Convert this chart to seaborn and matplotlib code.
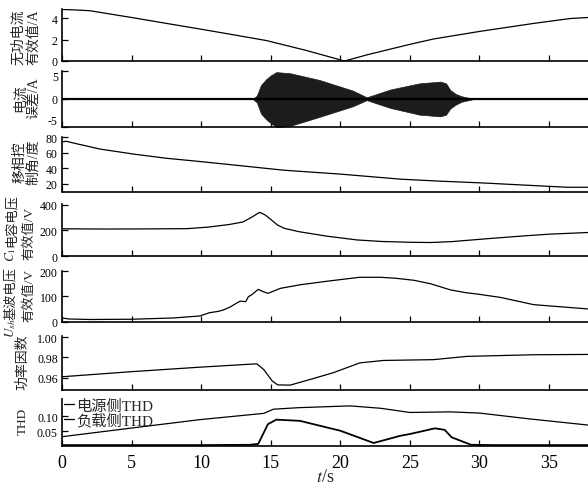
import numpy as np
import pandas as pd
import matplotlib
matplotlib.use("Agg")
import matplotlib.pyplot as plt
import seaborn as sns

# ---------------- data ----------------
t_q = [0, 1, 2, 5, 7.5, 9.9, 12.5, 14.7, 17.5, 20.3, 22, 25, 26.7, 30, 33.9, 36.5, 37.8]
q_current = [4.8, 4.75, 4.68, 4.05, 3.5, 2.98, 2.4, 1.9, 1.0, 0.0, 0.6, 1.55, 2.05, 2.75, 3.5, 3.95, 4.05]

t_env = [13.7, 14.0, 14.3, 14.7, 15.0, 15.4, 16.4, 18.5, 20.9, 21.9, 23.6, 25.7, 27.2, 27.6, 27.9, 28.3, 28.7, 29.6]
err_upper = [0, 0.6, 2.5, 3.6, 4.2, 4.8, 4.6, 3.4, 1.5, 0.3, 1.7, 2.8, 3.1, 2.8, 1.6, 0.9, 0.5, 0]
err_lower = [0, -0.6, -2.6, -3.7, -4.3, -5.0, -4.8, -3.2, -1.3, -0.2, -1.6, -2.8, -3.1, -2.8, -1.7, -1.0, -0.5, 0]

t_ang = [0, 0.3, 1, 2.7, 5.1, 7.5, 9.9, 12.5, 15.9, 20, 24.3, 27, 30.3, 33, 36.3, 37.8]
angle = [74, 75, 72, 65, 58.5, 53, 48.8, 44, 37.6, 32.5, 26, 23.5, 21, 18.5, 15.5, 15.5]

t_uc = [0, 3, 6, 9, 10.5, 12, 13, 13.6, 14.2, 14.6, 15.0, 15.5, 16, 17, 19, 21.2, 23, 25, 26.5, 28, 30.6, 33, 35, 37.8]
uc_rms = [212, 210, 211, 213, 225, 245, 265, 300, 340, 320, 285, 240, 215, 190, 155, 125, 113, 107, 105, 112, 135, 155, 170, 183]

t_ush = [0, 0.5, 2, 5, 8, 9.9, 10.6, 11.2, 11.6, 12.1, 12.3, 12.8, 13.2, 13.4, 13.6, 14.1, 14.4, 14.8, 15.7, 17.1, 19, 21.4, 22.9, 24, 25.3, 26.5, 27.9, 29, 30, 31.5, 33.9, 35.5, 37.8]
ush_rms = [14, 10, 8, 9, 14, 22, 35, 40, 46, 58, 65, 81, 79, 99, 105, 128, 120, 112, 132, 146, 160, 176, 176, 172, 164, 150, 126, 115, 108, 96, 67, 60, 50]

t_pf = [0, 5, 9.9, 14, 14.5, 15.1, 15.5, 16.4, 18, 19.5, 21.4, 23.1, 26.7, 29.1, 33.9, 37.8]
pf = [0.961, 0.966, 0.9704, 0.9737, 0.968, 0.957, 0.953, 0.9528, 0.959, 0.965, 0.9746, 0.977, 0.9778, 0.981, 0.9826, 0.9829]

t_src = [0, 5, 9.9, 14.5, 15.2, 17, 20.7, 22.9, 25, 27.9, 30, 33.7, 37.8]
thd_source = [0.031, 0.06, 0.088, 0.109, 0.123, 0.128, 0.134, 0.126, 0.112, 0.114, 0.11, 0.09, 0.07]

t_load = [0, 5, 10, 13.5, 14.1, 14.8, 15.4, 17.1, 20, 22.4, 24.3, 25, 26.8, 27.5, 28, 29.4, 31, 37.8]
thd_load = [0.003, 0.003, 0.003, 0.004, 0.007, 0.073, 0.088, 0.084, 0.051, 0.01, 0.034, 0.04, 0.059, 0.054, 0.029, 0.004, 0.003, 0.003]

x_ticks = [0, 5, 10, 15, 20, 25, 30, 35]
legend_labels = ["电源侧THD", "负载侧THD"]

# ---------------- style ----------------
sns.set_theme(style="ticks")
plt.rcParams['font.family'] = ['Liberation Serif', 'Noto Sans CJK SC', 'DejaVu Sans']
plt.rcParams['mathtext.fontset'] = 'stix'
plt.rcParams['axes.unicode_minus'] = False

W, H = 588, 489
fig = plt.figure(figsize=(W / 100, H / 100), dpi=100)

panels_px = [(10, 62), (72, 128), (138, 192.5), (205, 257), (272, 322.5), (337, 391), (400, 447)]
left_px = 62
axes = []
for top, bot in panels_px:
    ax = fig.add_axes([left_px / W, 1 - bot / H, (W - left_px) / W, (bot - top) / H])
    axes.append(ax)

LC = 'black'
LW = 0.9

def draw(ax, x, y, **kw):
    df = pd.DataFrame({'t': x, 'v': y})
    sns.lineplot(data=df, x='t', y='v', ax=ax, color=kw.get('color', LC),
                 lw=kw.get('lw', LW), estimator=None, label=kw.get('label'), legend=bool(kw.get('label')))

draw(axes[0], t_q, q_current)

# current error: baseline plus dense oscillation envelope
ax = axes[1]
draw(ax, [0, 37.8], [0, 0], lw=1.6)
ax.fill_between(t_env, err_lower, err_upper, color='#1c1c1c', lw=0.5, edgecolor='#1c1c1c')

draw(axes[2], t_ang, angle)
draw(axes[3], t_uc, uc_rms)
draw(axes[4], t_ush, ush_rms)
draw(axes[5], t_pf, pf)
draw(axes[6], t_src, thd_source, label=legend_labels[0])
draw(axes[6], t_load, thd_load, label=legend_labels[1], lw=1.3)

ylims = [(0, 4.84), (-5, 5), (10, 80.5), (0, 405), (0, 201), (0.948, 1.001), (0, 0.157)]
yticks = [[0, 2, 4], [-5, 0, 5], [20, 40, 60, 80], [0, 200, 400], [0, 100, 200],
          [0.96, 0.98, 1.00], [0.05, 0.10]]
yticklabels = [["0", "2", "4"], ["-5", "0", "5"], ["20", "40", "60", "80"], ["0", "200", "400"],
               ["0", "100", "200"], ["0.96", "0.98", "1.00"], ["0.05", "0.10"]]

for i, ax in enumerate(axes):
    ax.set_xlim(0, 37.8)
    ax.set_ylim(*ylims[i])
    ax.set_yticks(yticks[i])
    ax.set_yticklabels(yticklabels[i])
    ax.set_xticks(x_ticks)
    ax.set_xlabel('')
    ax.set_ylabel('')
    for s in ['top', 'right']:
        ax.spines[s].set_visible(False)
    for s in ['left', 'bottom']:
        ax.spines[s].set_color('black')
        ax.spines[s].set_linewidth(1.2)
    ax.tick_params(axis='both', direction='in', length=4, width=0.9, colors='black')
    ax.tick_params(axis='y', labelsize=8.5, pad=3)
    if i < len(axes) - 1:
        ax.tick_params(axis='x', labelbottom=False)
    else:
        ax.tick_params(axis='x', labelsize=13, pad=6)
    ax.set_facecolor('white')

# nudge edge labels of the error panel so they do not collide with neighbours
lbls = axes[1].get_yticklabels()
lbls[0].set_va('bottom')
lbls[-1].set_va('top')

leg = axes[6].legend(loc='upper left', bbox_to_anchor=(0.0, 1.04), frameon=False,
                     handlelength=0.7, handletextpad=0.15, labelspacing=0.0,
                     borderaxespad=0, borderpad=0.1, fontsize=11)
for h in leg.get_lines():
    h.set_linewidth(0.9)

# y labels
cjk = ['Liberation Serif', 'Noto Sans CJK SC']
def ylab(txt, x, y, **kw):
    fig.text(x / W, 1 - y / H, txt, rotation=90, ha='center', va='center',
             fontsize=kw.get('fs', 10), linespacing=1.1, family=cjk, multialignment='center')

ylab("无功电流\n有效值/A", 26, 37)
ylab("电流\n误差/A", 27, 98)
ylab("移相控\n制角/度", 27, 162)
ylab("电容电压", 11, 221, fs=9.5)
ylab("$C_1$", 11, 255, fs=9.5)
ylab("有效值/V", 29, 234, fs=9.5)
ylab("基波电压", 11, 293, fs=9.5)
ylab("$U_{sh}$", 11, 328, fs=9.5)
ylab("有效值/V", 29, 296, fs=9.5)
ylab("功率因数", 23, 362)
ylab("THD", 23, 421, fs=9.5)

fig.text(325 / W, 1 - 478 / H, "$t$/s", ha='center', va='center', fontsize=13)

fig.savefig("out.png", dpi=100, facecolor='white')
